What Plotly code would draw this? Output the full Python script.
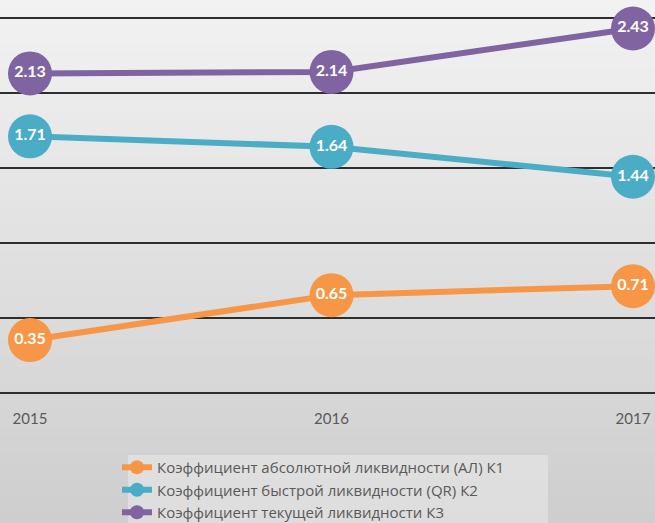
import plotly.graph_objects as go

years = [2015, 2016, 2017]
year_labels = ["2015", "2016", "2017"]
names = [
    "Коэффициент абсолютной ликвидности (АЛ) К1",
    "Коэффициент быстрой ликвидности (QR) К2",
    "Коэффициент текущей ликвидности К3",
]
k1 = [0.35, 0.65, 0.71]
k2 = [1.71, 1.64, 1.44]
k3 = [2.13, 2.14, 2.43]
colors = ["#F79646", "#4BACC6", "#8064A2"]

W, H = 655, 523
PB = 400  # plot bottom in px
fig = go.Figure()

for name, vals, col in zip(names, [k1, k2, k3], colors):
    fig.add_trace(go.Scatter(
        x=years, y=vals, mode="lines+markers+text",
        text=[f"{v:.2f}" for v in vals], textposition="middle center",
        textfont=dict(family="Lato", size=16, color="white", weight="bold"),
        line=dict(color=col, width=6),
        marker=dict(size=44, color=col, line=dict(width=0)),
        showlegend=False, hoverinfo="skip",
    ))
for name, col in zip(names, colors):
    fig.add_trace(go.Scatter(
        x=[None], y=[None], mode="lines+markers", name=name,
        line=dict(color=col, width=6),
        marker=dict(size=14, color=col),
    ))

def py(px):
    return (PB - px) / PB

# gradient background bands
shapes = []
n = 60
top_c = (242, 242, 242)
bot_c = (206, 206, 206)
y_top = 1.0
y_bot = py(H)
for i in range(n):
    t = i / (n - 1)
    c = tuple(round(top_c[j] + (bot_c[j] - top_c[j]) * t) for j in range(3))
    y0 = y_top - (y_top - y_bot) * i / n
    y1 = y_top - (y_top - y_bot) * (i + 1) / n
    shapes.append(dict(type="rect", xref="paper", yref="paper",
                       x0=0, x1=1, y0=y1 - 0.002, y1=y0 + 0.002,
                       fillcolor="rgb(%d,%d,%d)" % c, line=dict(width=0),
                       layer="below"))
# light legend box
shapes.append(dict(type="rect", xref="paper", yref="paper",
                   x0=128 / W, x1=548 / W, y0=py(H), y1=py(455),
                   fillcolor="rgba(240,240,240,0.45)", line=dict(width=0),
                   layer="below"))

fig.update_layout(
    width=W, height=H,
    margin=dict(l=0, r=0, t=0, b=H - PB, autoexpand=False),
    paper_bgcolor="#d8d8d8",
    plot_bgcolor="rgba(0,0,0,0)",
    shapes=shapes,
    font=dict(family="Lato", color="#595959"),
    xaxis=dict(
        range=[2015 - 30 / 301.5, 2017 + 22 / 301.5],
        tickvals=years, ticktext=year_labels,
        showgrid=False, zeroline=False, showline=False,
        tickfont=dict(size=15, color="#595959"),
        ticklabelstandoff=8,
    ),
    yaxis=dict(
        range=[-7.5 / 150, 2.5 + 18 / 150],
        dtick=0.5, tick0=0,
        showgrid=True, gridcolor="#2e2e2e", gridwidth=2,
        zeroline=False, showline=False, showticklabels=False,
    ),
    legend=dict(
        x=117 / W, xanchor="left",
        y=py(451), yanchor="top",
        bgcolor="rgba(0,0,0,0)",
        font=dict(family="Open Sans", size=15, color="#595959"),
        itemwidth=30,
        tracegroupgap=0,
    ),
)

fig.write_html("out.html", config={"displayModeBar": False},
               post_script="document.body.style.margin='0';")
